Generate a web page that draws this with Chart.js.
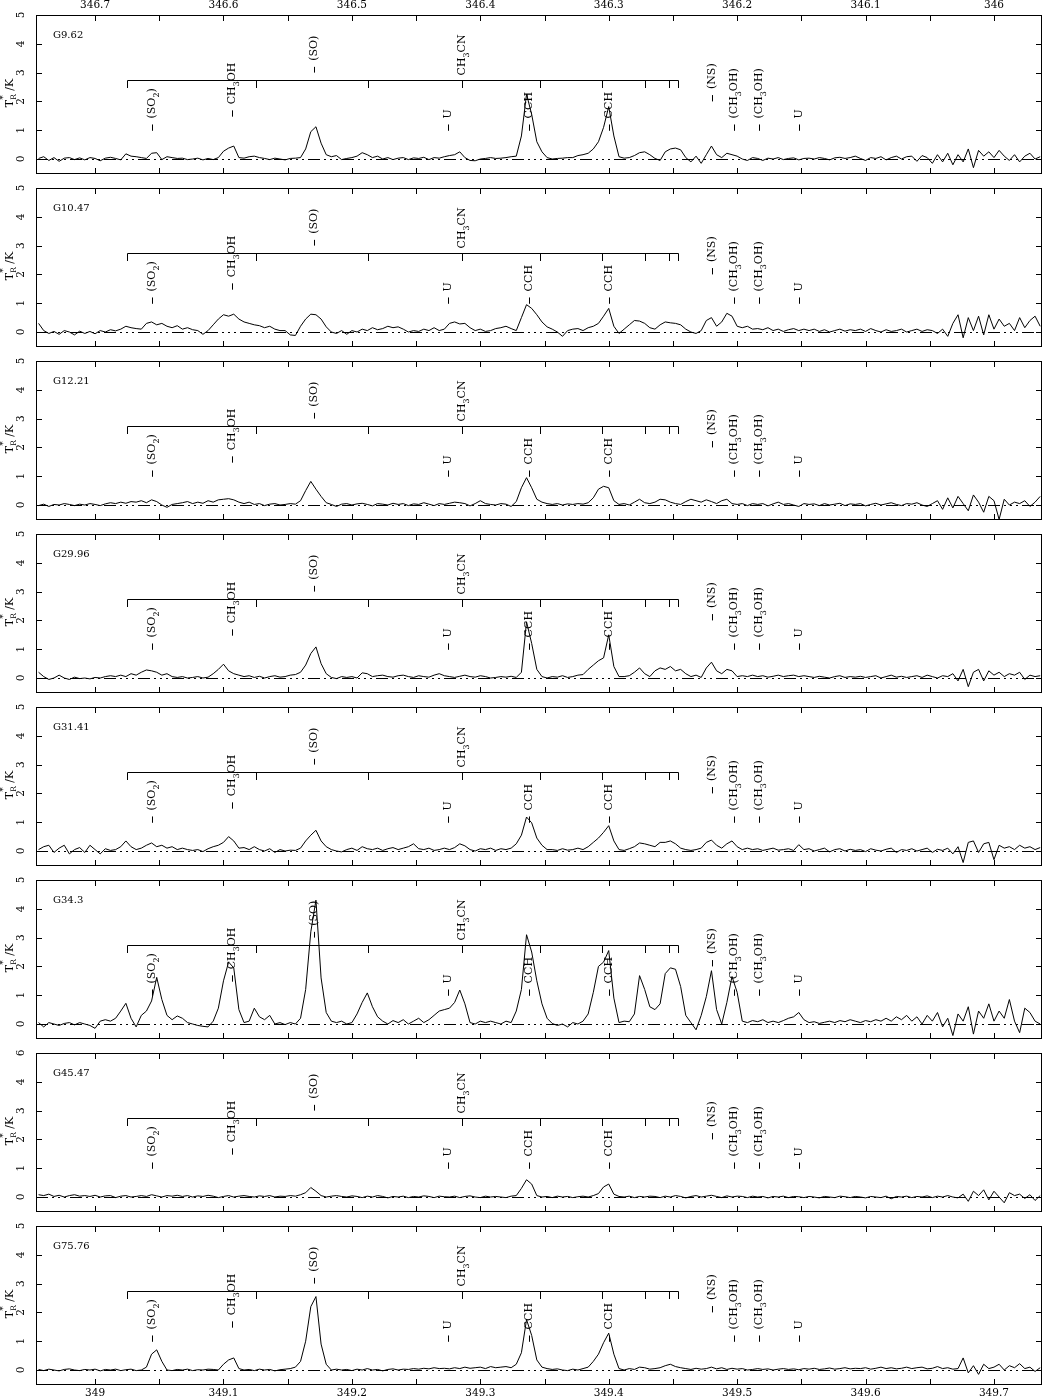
<!DOCTYPE html>
<html><head><meta charset="utf-8">
<script src="https://cdn.jsdelivr.net/npm/chart.js@4.4.0/dist/chart.umd.min.js"></script>
<style>
html,body{margin:0;padding:0;background:#fff;overflow:hidden;width:1043px;height:1399px;}
canvas{position:absolute;left:0;}
</style></head><body>
<script>
// ---------- DATA ----------
const sourceNames = ['G9.62','G10.47','G12.21','G29.96','G31.41','G34.3','G45.47','G75.76'];

// signal-band frequency of each channel (GHz), bottom axis
const freqGHz = [
348.956,348.960,348.964,348.968,348.972,348.976,348.980,348.984,348.988,348.992,
348.996,349.000,349.004,349.008,349.012,349.016,349.020,349.024,349.028,349.032,
349.036,349.040,349.044,349.048,349.052,349.056,349.060,349.064,349.068,349.072,
349.076,349.080,349.084,349.088,349.092,349.096,349.100,349.104,349.108,349.112,
349.116,349.120,349.124,349.128,349.132,349.136,349.140,349.144,349.148,349.152,
349.156,349.160,349.164,349.168,349.172,349.176,349.180,349.184,349.188,349.192,
349.196,349.200,349.204,349.208,349.212,349.216,349.220,349.224,349.228,349.232,
349.236,349.240,349.244,349.248,349.252,349.256,349.260,349.264,349.268,349.272,
349.276,349.280,349.284,349.288,349.292,349.296,349.300,349.304,349.308,349.312,
349.316,349.320,349.324,349.328,349.332,349.336,349.340,349.344,349.348,349.352,
349.356,349.360,349.364,349.368,349.372,349.376,349.380,349.384,349.388,349.392,
349.396,349.400,349.404,349.408,349.412,349.416,349.420,349.424,349.428,349.432,
349.436,349.440,349.444,349.448,349.452,349.456,349.460,349.464,349.468,349.472,
349.476,349.480,349.484,349.488,349.492,349.496,349.500,349.504,349.508,349.512,
349.516,349.520,349.524,349.528,349.532,349.536,349.540,349.544,349.548,349.552,
349.556,349.560,349.564,349.568,349.572,349.576,349.580,349.584,349.588,349.592,
349.596,349.600,349.604,349.608,349.612,349.616,349.620,349.624,349.628,349.632,
349.636,349.640,349.644,349.648,349.652,349.656,349.660,349.664,349.668,349.672,
349.676,349.680,349.684,349.688,349.692,349.696,349.700,349.704,349.708,349.712,
349.716,349.720,349.724,349.728,349.732,349.736];

const tG9_62 = [
0.02,0.08,-0.05,0.05,-0.08,0.03,0.05,-0.02,0.04,-0.03,
0.05,0.02,-0.06,0.03,0.06,0.02,-0.03,0.18,0.1,0.08,
0.05,0.02,0.2,0.22,-0.02,0.08,0.05,0.02,0.03,-0.02,
0.0,0.03,-0.03,0.02,-0.02,0.05,0.27,0.38,0.45,0.05,
0.03,0.08,0.1,0.05,0.02,-0.02,0.03,0.0,-0.03,0.02,
0.03,0.05,0.35,0.95,1.12,0.55,0.15,0.08,0.12,-0.02,
0.02,0.05,0.1,0.22,0.15,0.05,0.1,0.0,0.05,-0.02,
0.03,0.05,-0.02,0.04,0.02,0.06,-0.02,0.05,0.03,0.08,
0.12,0.15,0.25,0.05,-0.05,-0.06,0.0,0.02,0.05,0.02,
0.03,0.05,0.08,0.1,0.8,2.25,1.55,0.6,0.25,0.05,
0.0,0.02,0.03,0.05,0.05,0.12,0.15,0.2,0.35,0.6,
1.1,1.82,0.8,0.08,0.03,0.05,0.12,0.22,0.25,0.15,
0.02,-0.05,0.25,0.35,0.38,0.32,0.05,-0.1,0.1,-0.15,
0.15,0.45,0.15,0.05,0.2,0.15,0.1,0.0,-0.05,0.05,
0.02,-0.05,0.03,0.0,0.05,-0.02,0.02,0.04,-0.03,0.02,
0.03,0.0,0.05,0.02,-0.03,0.04,0.06,0.02,0.05,0.1,
0.02,-0.05,0.05,0.02,0.08,-0.03,0.05,0.1,0.0,0.08,
0.1,-0.08,0.12,0.05,-0.15,0.15,-0.1,0.2,-0.2,0.15,
-0.1,0.35,-0.3,0.3,0.1,0.25,0.05,0.3,0.1,-0.05,
0.15,-0.1,0.1,0.2,0.0,0.08];

const tG10_47 = [
0.3,0.05,-0.05,0.02,-0.08,0.05,0.0,-0.1,0.03,-0.05,
0.02,-0.06,0.05,0.0,0.08,0.04,0.1,0.2,0.15,0.12,
0.1,0.3,0.35,0.25,0.3,0.2,0.15,0.22,0.1,0.15,
0.08,0.05,-0.08,0.05,0.25,0.45,0.6,0.55,0.62,0.45,
0.35,0.3,0.25,0.22,0.15,0.2,0.1,0.05,0.05,-0.1,
-0.12,0.2,0.45,0.62,0.6,0.45,0.18,0.0,-0.05,0.05,
-0.08,0.05,0.0,0.1,0.05,0.15,0.08,0.12,0.2,0.15,
0.18,0.1,0.0,0.05,0.02,0.1,0.05,0.15,0.05,0.1,
0.3,0.35,0.28,0.3,0.15,0.05,0.1,0.02,0.05,0.12,
0.15,0.2,0.12,0.05,0.5,0.95,0.82,0.6,0.35,0.18,
0.1,0.0,-0.15,0.05,0.1,0.12,0.05,0.15,0.2,0.3,
0.55,0.82,0.2,-0.05,0.1,0.25,0.4,0.38,0.3,0.15,
0.1,0.25,0.35,0.32,0.3,0.25,0.1,0.0,-0.05,0.05,
0.4,0.5,0.2,0.35,0.65,0.55,0.2,0.15,0.2,0.1,
0.12,0.08,0.15,0.05,0.1,0.02,0.08,0.12,0.05,0.1,
0.05,0.1,0.02,0.08,0.0,0.05,0.1,0.03,0.08,0.05,
0.1,0.02,0.12,0.05,0.0,0.08,0.02,0.05,0.1,0.0,
0.05,0.1,0.02,0.08,0.05,-0.05,0.1,-0.15,0.3,0.6,
-0.2,0.5,0.05,0.55,-0.1,0.6,0.1,0.45,0.2,0.3,
0.05,0.5,0.15,0.4,0.55,0.2];

const tG12_21 = [
-0.02,0.03,-0.05,0.02,0.0,0.05,0.02,-0.02,0.03,0.0,
0.05,0.02,-0.02,0.04,0.08,0.05,0.1,0.06,0.12,0.1,
0.15,0.08,0.18,0.12,0.0,-0.08,0.02,0.05,0.08,0.12,
0.05,0.1,0.06,0.15,0.1,0.18,0.2,0.22,0.18,0.1,
0.05,0.1,0.02,0.05,-0.02,0.03,0.05,0.0,0.02,0.05,
0.03,0.15,0.5,0.82,0.55,0.3,0.08,0.02,-0.05,0.03,
0.05,0.0,0.04,0.06,0.02,-0.03,0.05,0.03,0.0,0.06,
0.02,0.05,-0.02,0.04,0.02,0.08,0.03,-0.02,0.05,0.02,
0.06,0.1,0.08,0.05,-0.03,0.05,0.15,0.05,0.02,0.0,
0.05,0.03,-0.05,0.12,0.6,0.95,0.6,0.2,0.1,0.05,
0.02,0.05,0.0,0.04,0.02,0.05,0.03,0.08,0.25,0.55,
0.65,0.6,0.15,0.02,0.05,0.0,0.1,0.2,0.08,0.05,
0.1,0.2,0.18,0.1,0.05,0.02,0.12,0.2,0.15,0.1,
0.18,0.12,0.05,0.15,0.2,0.05,0.02,0.05,-0.02,0.05,
0.02,0.05,-0.03,0.04,0.1,0.02,0.05,0.0,-0.05,0.05,
0.02,0.04,-0.02,0.05,0.0,0.03,0.06,-0.02,0.04,0.02,
0.05,-0.03,0.02,0.06,0.0,0.04,0.08,0.02,-0.02,0.05,
0.03,0.08,0.0,-0.05,0.05,0.15,-0.15,0.25,-0.1,0.3,
0.05,-0.2,0.35,0.1,-0.25,0.3,0.15,-0.5,0.2,0.0,
0.1,0.05,0.15,-0.05,0.1,0.3];

const tG29_96 = [
0.2,0.05,-0.05,0.0,0.1,0.0,-0.05,0.03,-0.02,0.0,
-0.03,0.02,0.0,0.05,0.08,0.05,0.1,0.05,0.15,0.1,
0.2,0.28,0.25,0.2,0.1,0.15,0.05,0.02,0.05,0.0,
0.02,0.05,0.0,0.03,0.15,0.3,0.48,0.25,0.15,0.1,
0.05,0.08,0.02,0.06,0.0,0.05,0.08,0.03,0.05,0.1,
0.12,0.2,0.45,0.85,1.08,0.5,0.15,0.02,-0.02,0.05,
0.02,0.05,0.0,0.18,0.15,0.05,0.08,0.1,0.05,0.03,
0.08,0.1,0.05,0.02,0.08,0.05,0.03,0.1,0.15,0.08,
0.05,0.02,0.06,0.1,0.05,0.03,0.08,0.05,0.0,0.02,
0.05,0.03,0.06,0.02,0.2,1.95,1.2,0.3,0.05,0.0,
0.05,0.03,0.08,0.02,0.05,0.1,0.12,0.3,0.45,0.6,
0.7,1.5,0.4,0.05,0.05,0.08,0.2,0.35,0.15,0.05,
0.25,0.35,0.3,0.4,0.25,0.3,0.15,0.05,0.1,0.02,
0.35,0.55,0.25,0.15,0.3,0.25,0.05,0.08,0.05,0.1,
0.05,0.08,0.03,0.06,0.1,0.05,0.08,0.1,0.05,0.08,
0.05,0.02,0.06,0.03,0.0,0.05,0.08,0.02,0.05,0.03,
0.06,0.02,0.05,0.08,0.0,0.05,0.1,0.03,0.06,0.02,
0.05,0.08,0.02,0.1,0.05,0.0,0.08,0.05,0.15,-0.1,
0.3,-0.3,0.2,0.3,-0.1,0.25,0.1,0.2,0.05,0.15,
0.1,0.2,-0.05,0.1,0.05,0.08];

const tG31_41 = [
0.05,0.15,0.2,-0.05,0.1,0.2,-0.1,0.05,0.12,-0.05,
0.2,0.05,-0.1,0.08,0.02,0.05,0.15,0.35,0.15,0.05,
0.1,0.2,0.28,0.15,0.2,0.1,0.15,0.05,0.1,0.05,
0.02,0.05,-0.02,0.08,0.15,0.2,0.3,0.5,0.35,0.1,
0.12,0.05,0.15,0.05,0.0,0.08,-0.05,0.05,0.0,0.03,
0.02,0.1,0.35,0.55,0.72,0.35,0.15,0.05,0.0,-0.03,
0.05,0.1,0.02,0.15,0.08,0.05,0.1,0.02,0.08,0.12,
0.05,0.1,0.15,0.25,0.08,0.05,0.1,0.02,0.05,0.1,
0.05,0.12,0.25,0.18,0.05,0.0,0.08,0.05,0.1,0.02,
0.08,0.05,0.1,0.25,0.55,1.18,0.98,0.45,0.2,0.05,
0.05,0.02,0.08,0.03,0.05,0.1,0.05,0.15,0.3,0.45,
0.65,0.88,0.35,0.05,0.02,0.08,0.15,0.28,0.25,0.2,
0.15,0.3,0.3,0.35,0.25,0.1,0.05,0.02,0.05,0.1,
0.3,0.38,0.2,0.1,0.25,0.35,0.15,0.05,0.1,0.05,
0.08,0.02,0.06,0.1,0.03,0.05,0.08,0.02,0.22,0.05,
0.08,0.0,0.05,0.1,-0.03,0.05,0.08,0.0,0.06,0.02,
0.05,-0.02,0.08,0.03,0.0,0.06,0.1,-0.05,0.05,0.02,
0.08,0.0,0.05,0.1,-0.05,0.06,0.02,0.1,-0.1,0.15,
-0.4,0.3,0.35,-0.05,0.25,0.3,-0.3,0.2,0.1,0.15,
0.05,0.2,0.1,0.15,0.05,0.12];

const tG34_3 = [
0.05,-0.1,0.05,0.0,-0.05,0.02,0.05,-0.03,0.05,0.0,
-0.05,-0.15,0.1,0.15,0.1,0.2,0.45,0.72,0.2,-0.1,
0.3,0.45,0.8,1.62,0.85,0.3,0.15,0.28,0.2,0.05,
0.0,-0.05,-0.08,-0.1,0.1,0.55,1.5,2.15,1.95,0.5,
0.05,0.1,0.55,0.25,0.15,0.3,0.0,0.05,-0.02,0.05,
0.0,0.2,1.2,3.2,4.3,1.6,0.4,0.1,0.05,0.1,
0.0,0.05,0.35,0.75,1.08,0.6,0.25,0.1,0.0,0.12,
0.05,0.15,0.0,0.1,0.2,0.05,0.15,0.3,0.45,0.5,
0.55,0.75,1.18,0.7,0.05,0.0,0.1,0.05,0.1,0.05,
0.0,0.1,0.05,0.45,1.2,3.1,2.5,1.5,0.7,0.2,
0.02,-0.05,0.0,-0.1,0.05,0.0,0.1,0.35,1.1,2.0,
2.15,2.55,0.9,0.05,0.1,0.08,0.35,1.68,1.2,0.6,
0.5,0.7,1.75,1.95,1.9,1.3,0.3,0.05,-0.2,0.3,
0.95,1.85,0.5,0.0,0.75,1.65,1.1,0.1,0.05,0.12,
0.08,0.15,0.05,0.1,0.05,0.12,0.2,0.25,0.4,0.15,
0.05,0.08,0.02,0.06,0.1,0.05,0.12,0.08,0.15,0.1,
0.05,0.12,0.08,0.15,0.1,0.2,0.1,0.25,0.15,0.3,
0.1,0.25,0.0,0.3,0.1,0.4,-0.1,0.2,-0.4,0.35,
0.1,0.6,-0.35,0.45,0.2,0.7,0.1,0.45,0.2,0.85,
0.1,-0.3,0.55,0.4,0.1,0.0];

const tG45_47 = [
0.08,0.05,0.1,0.02,0.06,0.0,0.05,0.08,0.03,0.05,
0.02,0.06,0.0,0.04,0.05,-0.02,0.03,0.05,0.0,0.02,
0.05,0.02,0.08,0.04,0.0,0.05,0.03,0.06,0.02,0.05,
0.0,0.04,0.02,0.06,0.03,-0.02,0.02,0.05,0.0,0.03,
0.05,0.02,0.0,0.04,0.02,0.05,0.0,0.03,0.02,0.05,
0.03,0.08,0.15,0.33,0.2,0.05,0.0,0.03,0.05,0.02,
0.0,0.04,0.02,-0.02,0.03,0.0,0.05,0.02,-0.03,0.02,
0.0,0.03,-0.02,0.02,0.0,0.04,0.02,-0.02,0.03,0.01,
0.0,0.03,-0.02,0.02,0.04,0.0,-0.02,0.03,0.0,0.02,
0.0,-0.02,0.03,0.05,0.3,0.6,0.45,0.05,0.0,0.02,
-0.02,0.03,0.0,0.02,-0.02,0.01,0.03,0.0,0.05,0.12,
0.35,0.45,0.1,0.02,0.0,0.03,-0.02,0.02,0.0,0.03,
0.02,-0.02,0.03,0.0,0.05,0.02,-0.03,0.02,0.05,0.0,
0.03,0.06,0.02,-0.02,0.04,0.0,0.03,0.02,-0.02,0.03,
0.0,0.02,-0.03,0.02,0.0,0.03,-0.02,0.02,0.01,-0.02,
0.02,0.0,-0.03,0.02,0.0,-0.02,0.03,0.01,-0.02,0.02,
0.0,-0.03,0.02,0.0,-0.02,0.03,-0.06,0.02,0.0,0.03,
-0.02,0.02,0.0,0.04,-0.02,0.03,0.0,0.05,0.0,-0.03,
0.1,-0.15,0.2,0.05,0.25,-0.1,0.2,0.0,-0.2,0.15,
0.05,0.1,-0.05,0.08,-0.12,0.05];

const tG75_76 = [
0.02,-0.02,0.03,0.0,-0.03,0.02,0.04,0.0,-0.02,0.02,
0.0,0.03,-0.03,0.02,0.0,0.03,-0.02,0.01,0.03,-0.02,
0.0,0.1,0.55,0.7,0.3,0.0,-0.02,0.02,0.0,0.03,
-0.02,0.01,0.0,0.03,0.02,0.0,0.2,0.35,0.42,0.05,
0.0,0.02,-0.02,0.03,0.0,0.02,-0.03,0.01,0.03,0.05,
0.1,0.3,1.0,2.2,2.55,0.9,0.2,0.0,0.03,0.0,
0.02,-0.02,0.03,0.0,0.05,0.0,0.02,-0.03,0.02,0.04,
0.0,0.03,0.02,0.05,0.03,0.06,0.04,0.08,0.05,0.06,
0.04,0.08,0.05,0.1,0.06,0.08,0.1,0.05,0.12,0.08,
0.1,0.12,0.08,0.2,0.6,1.75,1.2,0.35,0.1,0.05,
0.02,0.04,0.0,-0.02,0.03,0.0,0.05,0.1,0.3,0.55,
0.95,1.28,0.55,0.05,0.0,0.05,0.02,0.1,0.08,0.03,
0.05,0.08,0.15,0.2,0.12,0.08,0.05,0.02,0.06,0.03,
0.05,0.1,0.04,0.08,0.02,0.06,0.03,0.05,0.0,0.02,
0.05,0.02,0.04,0.0,0.03,0.05,0.02,0.04,0.01,0.05,
0.03,0.06,0.02,0.04,0.07,0.03,0.05,0.08,0.04,0.06,
0.05,0.08,0.03,0.06,0.1,0.05,0.08,0.04,0.06,0.1,
0.05,0.08,0.1,0.04,0.06,0.12,0.05,0.08,0.03,0.05,
0.42,-0.1,0.15,-0.15,0.2,0.05,0.1,0.2,0.0,0.15,
0.08,0.22,0.05,0.1,-0.05,0.08];

const spectra = [tG9_62,tG10_47,tG12_21,tG29_96,tG31_41,tG34_3,tG45_47,tG75_76];

// axes
const majorTickFreqs = [349.0,349.1,349.2,349.3,349.4,349.5,349.6,349.7];
const bottomTickLabels = ['349','349.1','349.2','349.3','349.4','349.5','349.6','349.7'];
const topTickLabels = ['346.7','346.6','346.5','346.4','346.3','346.2','346.1','346'];
const minorTickFreqs = [349.05,349.15,349.25,349.35,349.45,349.55,349.65];
const yTickValues = [0,1,2,3,4,5];
const yTickLabelsDefault = ['0','1','2','3','4','5'];
const yTickLabelsG45 = ['0','1','2','3','4','6'];

// line identifications
const lineFreqs = [349.0446,349.1069,349.1708,349.2751,349.3382,349.4002,349.4807,349.4978,349.5173,349.5482];
const lineNames = ['(SO_2)','CH_3OH','(SO)','U','CCH','CCH','(NS)','(CH_3OH)','(CH_3OH)','U'];
const lineTickLow  = [0.98,1.47,3.0,0.98,0.98,0.98,2.0,0.98,0.98,0.98];
const lineTickHigh = [1.2,1.69,3.2,1.2,1.2,1.2,2.22,1.2,1.2,1.2];
const ladderName = 'CH_3CN';
const ladderLabelFreq = 349.286;
const ladderFreqs = [349.0249,349.1250,349.2122,349.2860,349.3461,349.3944,349.4283,349.4473,349.4543];
const ladderLevel = 2.74, ladderDrop = 0.26;

const X_MIN = 348.954, X_MAX = 349.7374, Y_MIN = -0.52, Y_MAX = 5;

// ---------- DRAWING ----------
const FONT = '"DejaVu Serif", serif';
function drawRich(ctx, text, x0, y0, size) {
  let x = x0;
  for (let k = 0; k < text.length; k++) {
    let c = text[k], sub = false;
    if (c === '_') { c = text[++k]; sub = true; }
    ctx.font = (sub ? size * 0.72 : size) + 'px ' + FONT;
    ctx.fillText(c, x, y0 + (sub ? size * 0.38 : 0));
    x += ctx.measureText(c).width;
  }
  return x - x0;
}

const panelDecor = {
  id: 'panelDecor',
  beforeDatasetsDraw(chart) {
    const {ctx, chartArea: a, scales: {y}} = chart;
    ctx.save();
    ctx.strokeStyle = '#000'; ctx.lineWidth = 1;
    ctx.setLineDash([12, 4, 2, 4, 2, 4, 2, 4]);
    const y0 = Math.round(y.getPixelForValue(0)) + 0.5;
    ctx.beginPath(); ctx.moveTo(a.left, y0); ctx.lineTo(a.right, y0); ctx.stroke();
    ctx.restore();
  },
  afterDatasetsDraw(chart, args, o) {
    const {ctx, chartArea: a, scales: {x, y}} = chart;
    const idx = o.index;
    ctx.save();
    ctx.strokeStyle = '#000'; ctx.fillStyle = '#000'; ctx.lineWidth = 1;
    ctx.setLineDash([]);
    // frame
    ctx.strokeRect(a.left + 0.5, a.top + 0.5, a.right - a.left - 1, a.bottom - a.top - 1);
    // x ticks
    ctx.beginPath();
    majorTickFreqs.concat(minorTickFreqs).forEach(f => {
      const px = Math.round(x.getPixelForValue(f)) + 0.5;
      ctx.moveTo(px, a.top); ctx.lineTo(px, a.top + 6);
      ctx.moveTo(px, a.bottom); ctx.lineTo(px, a.bottom - 6);
    });
    // y ticks
    yTickValues.forEach(v => {
      const py = Math.round(y.getPixelForValue(v)) + 0.5;
      ctx.moveTo(a.left, py); ctx.lineTo(a.left + 6, py);
      ctx.moveTo(a.right, py); ctx.lineTo(a.right - 6, py);
    });
    ctx.stroke();
    // y tick labels (rotated)
    const yl = idx === 6 ? yTickLabelsG45 : yTickLabelsDefault;
    ctx.font = '10.5px ' + FONT; ctx.textAlign = 'center'; ctx.textBaseline = 'middle';
    yTickValues.forEach((v, k) => {
      ctx.save();
      ctx.translate(21.5, y.getPixelForValue(v));
      ctx.rotate(-Math.PI / 2);
      ctx.fillText(yl[k], 0, 0);
      ctx.restore();
    });
    // y title T_R^* /K
    ctx.save();
    ctx.translate(10, a.top + 78);
    ctx.rotate(-Math.PI / 2);
    ctx.textAlign = 'left'; ctx.textBaseline = 'middle';
    ctx.font = '11px ' + FONT;
    const wT = ctx.measureText('T').width;
    ctx.font = '7.5px ' + FONT;
    const wR = ctx.measureText('R').width;
    ctx.font = '11px ' + FONT;
    const wK = ctx.measureText(' /K').width;
    let sx = -(wT + wR + wK) / 2;
    ctx.fillText('T', sx, 0); sx += wT;
    ctx.font = '7.5px ' + FONT;
    ctx.fillText('R', sx, 4);
    ctx.font = '9px ' + FONT;
    ctx.fillText('*', sx, -6);
    sx += wR;
    ctx.font = '11px ' + FONT;
    ctx.fillText(' /K', sx, 0);
    ctx.restore();
    // source name
    ctx.font = '10px ' + FONT; ctx.textAlign = 'left'; ctx.textBaseline = 'middle';
    ctx.fillText(sourceNames[idx], 53, a.top + 20);
    // x labels
    ctx.font = '10.5px ' + FONT; ctx.textAlign = 'center'; ctx.textBaseline = 'middle';
    if (idx === 0) majorTickFreqs.forEach((f, k) => ctx.fillText(topTickLabels[k], x.getPixelForValue(f), 5));
    if (idx === sourceNames.length - 1) majorTickFreqs.forEach((f, k) => ctx.fillText(bottomTickLabels[k], x.getPixelForValue(f), a.bottom + 8));
    // CH3CN ladder
    const yb = Math.round(y.getPixelForValue(ladderLevel)) + 0.5;
    const yd = Math.round(y.getPixelForValue(ladderLevel - ladderDrop));
    ctx.beginPath();
    ctx.moveTo(Math.round(x.getPixelForValue(ladderFreqs[0])) + 0.5, yb);
    ctx.lineTo(Math.round(x.getPixelForValue(ladderFreqs[ladderFreqs.length - 1])) + 0.5, yb);
    ladderFreqs.forEach(f => {
      const px = Math.round(x.getPixelForValue(f)) + 0.5;
      ctx.moveTo(px, yb); ctx.lineTo(px, yd);
    });
    // line markers
    lineFreqs.forEach((f, k) => {
      const px = Math.round(x.getPixelForValue(f)) + 0.5;
      ctx.moveTo(px, y.getPixelForValue(lineTickLow[k]));
      ctx.lineTo(px, y.getPixelForValue(lineTickHigh[k]));
    });
    ctx.stroke();
    // line labels (rotated, reading upward)
    ctx.textAlign = 'left'; ctx.textBaseline = 'middle';
    const drawVert = (txt, px, pyStart) => {
      ctx.save();
      ctx.translate(px, pyStart);
      ctx.rotate(-Math.PI / 2);
      drawRich(ctx, txt, 0, 0, 11);
      ctx.restore();
    };
    lineFreqs.forEach((f, k) => {
      drawVert(lineNames[k], Math.round(x.getPixelForValue(f)) + 0.5, y.getPixelForValue(lineTickHigh[k]) - 6);
    });
    drawVert(ladderName, Math.round(x.getPixelForValue(ladderLabelFreq)) + 0.5, yb - 5);
    ctx.restore();
  }
};

sourceNames.forEach((name, i) => {
  const cv = document.createElement('canvas');
  cv.width = 1043; cv.height = 190;
  cv.style.width = '1043px'; cv.style.height = '190px';
  cv.style.top = (173 * i) + 'px';
  document.body.appendChild(cv);
  new Chart(cv, {
    type: 'line',
    data: {
      datasets: [{
        data: freqGHz.map((f, k) => ({x: f, y: spectra[i][k]})),
        borderColor: '#000', borderWidth: 1, pointRadius: 0, fill: false, tension: 0
      }]
    },
    options: {
      responsive: false, animation: false, devicePixelRatio: 1,
      layout: {padding: {left: 36, right: 1, top: 15, bottom: 16}},
      scales: {
        x: {type: 'linear', min: X_MIN, max: X_MAX, display: false},
        y: {type: 'linear', min: Y_MIN, max: Y_MAX, display: false}
      },
      plugins: {legend: {display: false}, tooltip: {enabled: false}, panelDecor: {index: i}}
    },
    plugins: [panelDecor]
  });
});
</script>
</body></html>
